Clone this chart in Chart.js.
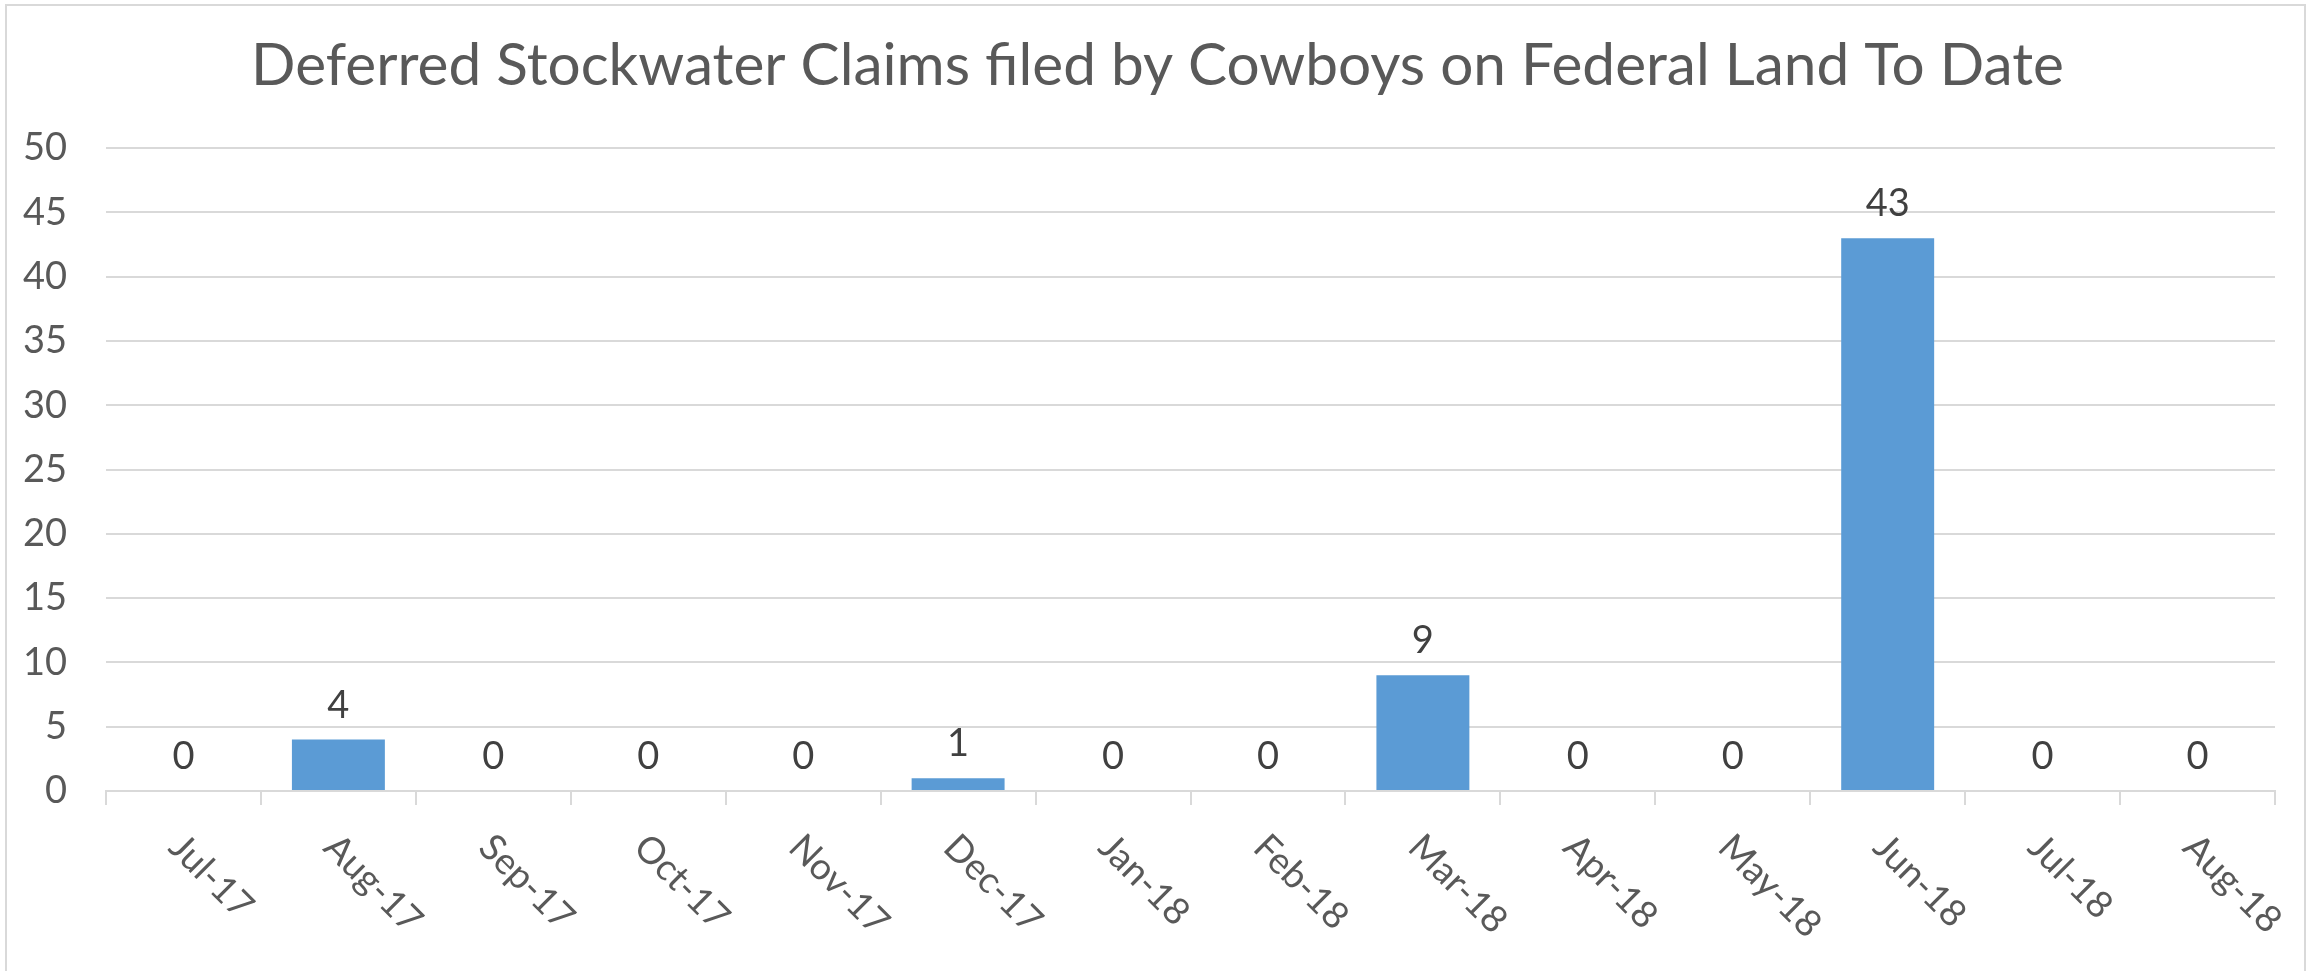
<!DOCTYPE html>
<html>
<head>
<meta charset="utf-8">
<script src="https://cdn.jsdelivr.net/npm/chart.js@4.4.0/dist/chart.umd.min.js"></script>
<style>
    body { margin: 0; background: #fff; overflow: hidden; }
    #frame { position: absolute; left: 5px; top: 4px; width: 2297px; height: 990px; border: 2px solid #d9d9d9; }
    #chart { position: absolute; left: 0; top: 0; }
</style>
</head>
<body>
<div id="frame"></div>
<canvas id="chart" width="2315" height="971"></canvas>
<script>
// chart data
const months = ['Jul-17', 'Aug-17', 'Sep-17', 'Oct-17', 'Nov-17', 'Dec-17', 'Jan-18',
                'Feb-18', 'Mar-18', 'Apr-18', 'May-18', 'Jun-18', 'Jul-18', 'Aug-18'];
const claims = [0, 4, 0, 0, 0, 1, 0, 0, 9, 0, 0, 43, 0, 0];
const yTicks = [0, 5, 10, 15, 20, 25, 30, 35, 40, 45, 50];
const chartTitle = 'Deferred Stockwater Claims filed by Cowboys on Federal Land To Date';

const fontFamily = 'Lato, "Open Sans", sans-serif';
const gridGray = '#d9d9d9';

// value labels above each bar
const valueLabels = {
    id: 'valueLabels',
    afterDatasetsDraw(chart) {
        const ctx = chart.ctx;
        const meta = chart.getDatasetMeta(0);
        ctx.save();
        ctx.font = '38px ' + fontFamily;
        ctx.fillStyle = '#404040';
        ctx.textAlign = 'center';
        ctx.textBaseline = 'alphabetic';
        meta.data.forEach((bar, i) => {
            ctx.fillText(String(claims[i]), bar.x, bar.y - 22);
        });
        ctx.restore();
    }
};

// month labels, turned 45 degrees clockwise
const slantedLabels = {
    id: 'slantedLabels',
    afterDraw(chart) {
        const ctx = chart.ctx;
        const xScale = chart.scales.x;
        ctx.save();
        ctx.font = '37px ' + fontFamily;
        ctx.fillStyle = '#595959';
        ctx.textAlign = 'left';
        ctx.textBaseline = 'top';
        months.forEach((m, i) => {
            const x = xScale.getPixelForValue(i);
            ctx.save();
            ctx.translate(x + 5, xScale.top + 37);
            ctx.rotate(Math.PI / 4);
            ctx.fillText(m, 0, 0);
            ctx.restore();
        });
        ctx.restore();
    }
};

new Chart(document.getElementById('chart'), {
    type: 'bar',
    data: {
        labels: months,
        datasets: [{
            data: claims,
            backgroundColor: '#5b9bd5',
            borderWidth: 0,
            categoryPercentage: 1.0,
            barPercentage: 0.6
        }]
    },
    options: {
        responsive: false,
        animation: false,
        layout: { padding: 0 },
        plugins: {
            legend: { display: false },
            tooltip: { enabled: false },
            title: {
                display: true,
                text: chartTitle,
                color: '#595959',
                font: { family: fontFamily, size: 58.5, weight: 'normal' },
                padding: { top: 31, bottom: 47 }
            }
        },
        scales: {
            x: {
                offset: true,
                grid: {
                    offset: true,
                    drawOnChartArea: false,
                    drawTicks: true,
                    tickLength: 14,
                    color: gridGray,
                    lineWidth: 2
                },
                border: { color: gridGray, width: 2 },
                ticks: { display: false },
                afterFit(scale) { scale.height = 180; }
            },
            y: {
                min: 0,
                max: 50,
                afterBuildTicks(scale) {
                    scale.ticks = yTicks.map(v => ({ value: v }));
                },
                grid: { color: gridGray, lineWidth: 2, drawTicks: false },
                border: { display: false },
                ticks: {
                    color: '#595959',
                    padding: 39,
                    font: { family: fontFamily, size: 38 }
                },
                afterFit(scale) { scale.width = 106; }
            },
            // empty axis on the right, only to keep the plot clear of the frame
            yRight: {
                position: 'right',
                grid: { display: false },
                border: { display: false },
                ticks: { display: false },
                afterFit(scale) { scale.width = 40; }
            }
        }
    },
    plugins: [valueLabels, slantedLabels]
});
</script>
</body>
</html>
